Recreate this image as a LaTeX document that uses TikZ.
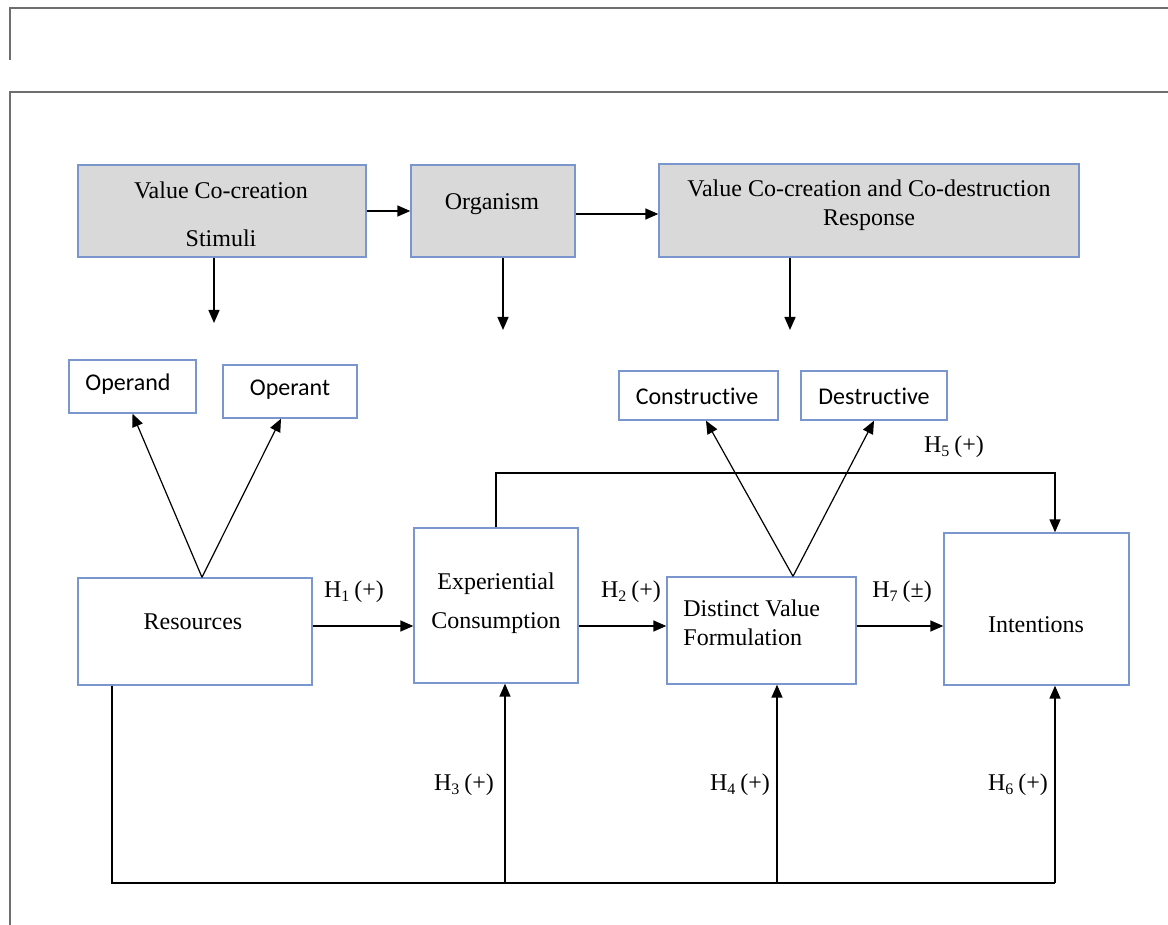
\documentclass[tikz,border=0pt]{standalone}
\usepackage{fontspec}
\setmainfont{Liberation Serif}
\newfontfamily\calibri[Ligatures=NoCommon]{Carlito}
\usetikzlibrary{arrows.meta}

\definecolor{boxblue}{RGB}{122,150,206}
\definecolor{boxgrey}{RGB}{217,217,217}
\definecolor{framegrey}{RGB}{110,110,110}

\tikzset{
  box/.style={draw=boxblue, line width=0.7pt, inner sep=0pt},
  shaded/.style={box, fill=boxgrey},
  lbl/.style={font=\fontsize{12}{14.5}\selectfont, align=center, inner sep=0pt},
  sanslbl/.style={lbl, font=\calibri\fontsize{12}{14.5}\selectfont},
  hyp/.style={lbl},
  line/.style={line width=0.75pt},
  arr/.style={line, -{Triangle[length=6.5pt,width=5.5pt]}},
}

\begin{document}
\begin{tikzpicture}[x=0.5pt,y=-0.5pt]
  \useasboundingbox (0,0) rectangle (1168,925);

  % page frames
  \draw[framegrey, line width=1pt] (10,60) -- (10,8) -- (1168,8);
  \draw[framegrey, line width=1pt] (10,925) -- (10,92) -- (1168,92);

  % S-O-R row
  \node[shaded, minimum width=144pt, minimum height=46pt] (stim) at (222,211) {};
  \node[shaded, minimum width=82pt, minimum height=46pt] (org) at (493,211) {};
  \node[shaded, minimum width=210pt, minimum height=46.5pt] (resp) at (869,210.5) {};
  \node[lbl] (stimtxt) at (221,214) {Value Co-creation\\[9.5pt]Stimuli};
  \node[lbl] (orgtxt) at (492,204) {Organism};
  \node[lbl] (resptxt) at (869,205) {Value Co-creation and Co-destruction\\Response};

  \draw[arr] (stim.east) -- (org.west);
  \draw[arr] ([yshift=-1.5pt]org.east) -- ([yshift=-1.5pt]org.east -| resp.west);

  \coordinate (stimend) at (214,323);
  \coordinate (orgend) at (503,330);
  \coordinate (respend) at (790,330);
  \draw[arr] (stim.south -| stimend) -- (stimend);
  \draw[arr] (org.south -| orgend) -- (orgend);
  \draw[arr] (resp.south -| respend) -- (respend);

  % dimension boxes
  \node[box, minimum width=63.5pt, minimum height=26.5pt] (opd) at (132.5,386.5) {};
  \node[box, minimum width=67pt, minimum height=26.5pt] (opt) at (290,391.5) {};
  \node[box, minimum width=79.5pt, minimum height=24.5pt] (cons) at (698.5,395.5) {};
  \node[box, minimum width=73pt, minimum height=24.5pt] (dest) at (874,395.5) {};
  \node[sanslbl] (opdtxt) at (128,384) {Operand};
  \node[sanslbl] (opttxt) at (290,390) {Operant};
  \node[sanslbl] (constxt) at (697,396) {Constructive};
  \node[sanslbl] (desttxt) at (874,396) {Destructive};

  % model boxes
  \node[box, minimum width=117pt, minimum height=53.5pt] (res) at (195,631.5) {};
  \node[box, minimum width=82pt, minimum height=77.5pt] (exp) at (496,605.5) {};
  \node[box, minimum width=94.5pt, minimum height=53.5pt] (dvf) at (761.5,630.5) {};
  \node[box, minimum width=92.5pt, minimum height=76pt] (int) at (1036.5,609) {};
  \node[lbl] (restxt) at (193,622) {Resources};
  \node[lbl] (exptxt) at (496,603) {Experiential\\[5pt]Consumption};
  \node[lbl, align=left, anchor=west] (dvftxt) at (683,623) {Distinct Value\\Formulation};
  \node[lbl] (inttxt) at (1036,625) {Intentions};

  % V arrows to the dimensions
  \draw[arr, line width=0.6pt] ([xshift=3.5pt]res.north) -- (opd.south);
  \draw[arr, line width=0.6pt] ([xshift=3.5pt]res.north) -- ([xshift=-4.5pt]opt.south);
  \draw[arr, line width=0.6pt] ([xshift=15.75pt]dvf.north) -- ([xshift=3.75pt]cons.south);
  \draw[arr, line width=0.6pt] ([xshift=15.75pt]dvf.north) -- (dest.south);

  % hypotheses along the main row
  \draw[arr] ([yshift=2.75pt]res.east) -- ([yshift=2.75pt]res.east -| exp.west);
  \draw[arr] ([yshift=2.25pt]dvf.west -| exp.east) -- ([yshift=2.25pt]dvf.west);
  \draw[arr] ([yshift=2.25pt]dvf.east) -- ([yshift=2.25pt]dvf.east -| int.west);
  \node[hyp] (h1) at (354,592) {H\textsubscript{1}\,(+)};
  \node[hyp] (h2) at (631,592) {H\textsubscript{2}\,(+)};
  \node[hyp] (h7) at (902,592) {H\textsubscript{7}\,(\textpm)};

  % H5 over the top
  \coordinate (h5corner) at (1055,473);
  \draw[arr] (exp.north) |- (h5corner) -- (h5corner |- int.north);
  \node[hyp] (h5) at (954,447) {H\textsubscript{5}\,(+)};

  % bus from resources underneath
  \coordinate (busL) at (112,883);
  \coordinate (busR) at (1055,883);
  \coordinate (foot3) at (505,883);
  \coordinate (foot4) at (777,883);
  \draw[line] (res.south -| busL) -- (busL) -- (busR);
  \draw[arr] (foot3) -- (foot3 |- exp.south);
  \draw[arr] (foot4) -- (foot4 |- dvf.south);
  \draw[arr] (busR) -- (busR |- int.south);
  \node[hyp] (h3) at (464,785) {H\textsubscript{3}\,(+)};
  \node[hyp] (h4) at (740,785) {H\textsubscript{4}\,(+)};
  \node[hyp] (h6) at (1018,785) {H\textsubscript{6}\,(+)};

\end{tikzpicture}
\end{document}
